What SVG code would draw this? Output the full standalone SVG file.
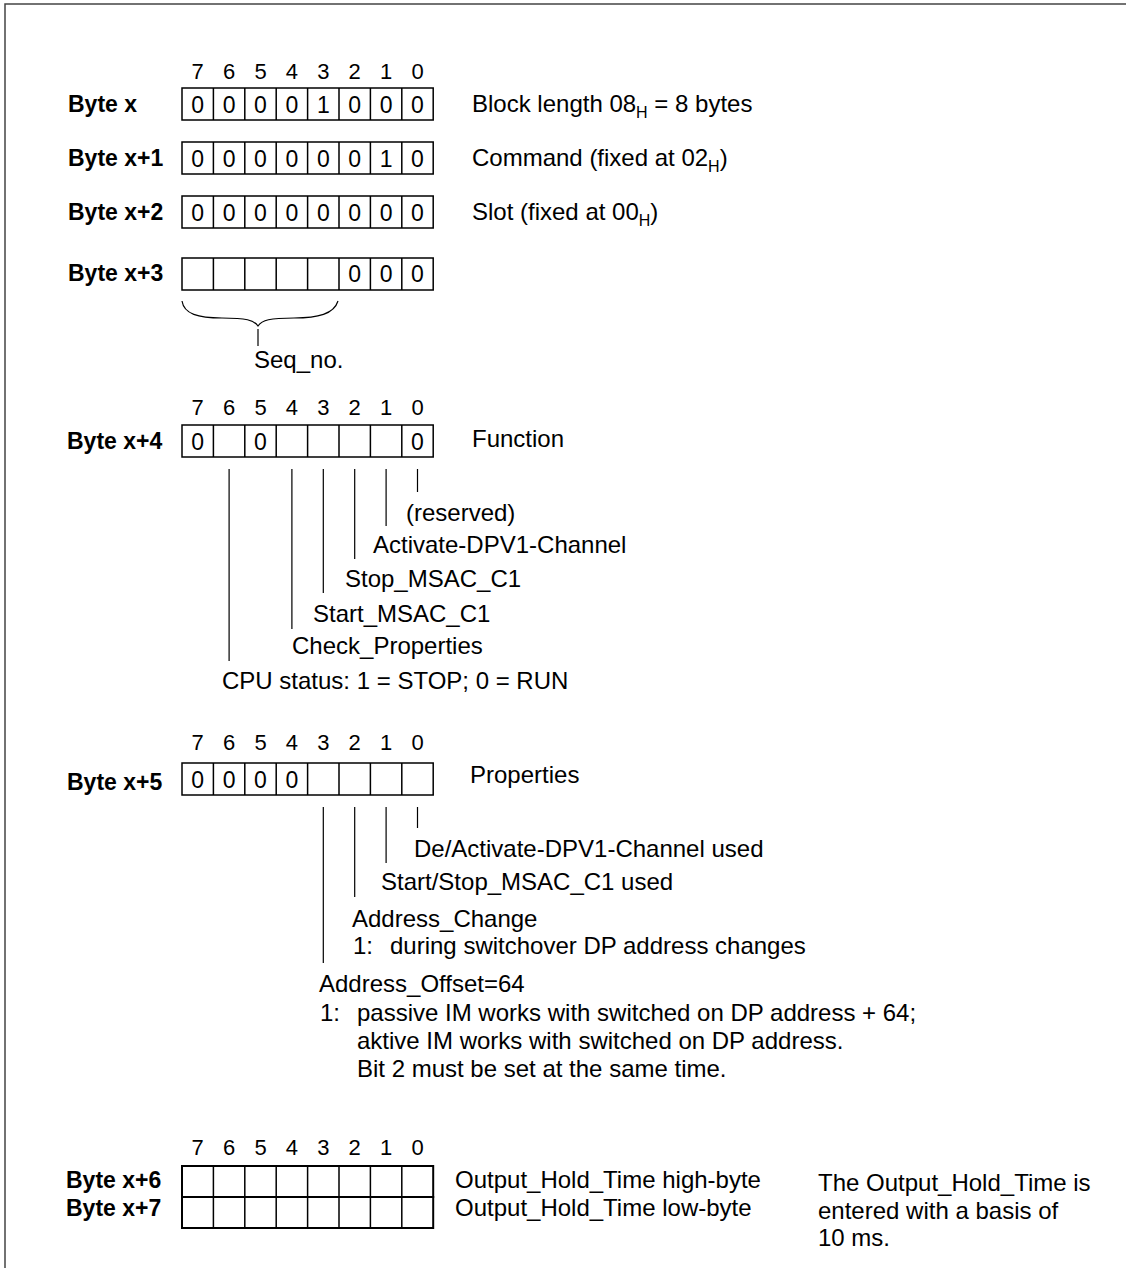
<svg xmlns="http://www.w3.org/2000/svg" width="1126" height="1276" viewBox="0 0 1126 1276">
<style>
.t{font-family:"Liberation Sans",Arial,sans-serif;font-size:24px;fill:#000}
.b{font-weight:bold;font-size:23px}
.c{text-anchor:middle;font-size:23px}
.n{font-family:"Liberation Sans",Arial,sans-serif;font-size:22px;fill:#000;text-anchor:middle}
.box{fill:none;stroke:#000;stroke-width:1.5}
.ld{stroke:#000;stroke-width:1.2;fill:none}
.sub{font-size:16px}
</style>
<defs>
<path id="grid" d="M213.4,0V32M244.8,0V32M276.2,0V32M307.6,0V32M339,0V32M370.4,0V32M401.8,0V32" class="box"/>
<g id="bits">
<text class="n" x="197.7">7</text><text class="n" x="229.1">6</text><text class="n" x="260.5">5</text><text class="n" x="291.9">4</text><text class="n" x="323.3">3</text><text class="n" x="354.7">2</text><text class="n" x="386.1">1</text><text class="n" x="417.5">0</text>
</g>
</defs>
<path d="M1126,4H5V1268" fill="none" stroke="#444" stroke-width="1.5"/>

<g id="byte-x">
<use href="#bits" y="79"/>
<text class="t b" x="68" y="112">Byte x</text>
<g transform="translate(0,88)"><rect class="box" x="182" y="0" width="251.2" height="32"/><use href="#grid"/></g>
<g class="t c"><text x="197.7" y="113">0</text><text x="229.1" y="113">0</text><text x="260.5" y="113">0</text><text x="291.9" y="113">0</text><text x="323.3" y="113">1</text><text x="354.7" y="113">0</text><text x="386.1" y="113">0</text><text x="417.5" y="113">0</text></g>
<text class="t" x="472" y="112">Block length 08<tspan class="sub" dy="6">H</tspan><tspan dy="-6"> = 8 bytes</tspan></text>
</g>

<g id="byte-x1">
<text class="t b" x="68" y="166">Byte x+1</text>
<g transform="translate(0,142)"><rect class="box" x="182" y="0" width="251.2" height="32"/><use href="#grid"/></g>
<g class="t c"><text x="197.7" y="167">0</text><text x="229.1" y="167">0</text><text x="260.5" y="167">0</text><text x="291.9" y="167">0</text><text x="323.3" y="167">0</text><text x="354.7" y="167">0</text><text x="386.1" y="167">1</text><text x="417.5" y="167">0</text></g>
<text class="t" x="472" y="166">Command (fixed at 02<tspan class="sub" dy="6">H</tspan><tspan dy="-6">)</tspan></text>
</g>

<g id="byte-x2">
<text class="t b" x="68" y="220">Byte x+2</text>
<g transform="translate(0,196)"><rect class="box" x="182" y="0" width="251.2" height="32"/><use href="#grid"/></g>
<g class="t c"><text x="197.7" y="221">0</text><text x="229.1" y="221">0</text><text x="260.5" y="221">0</text><text x="291.9" y="221">0</text><text x="323.3" y="221">0</text><text x="354.7" y="221">0</text><text x="386.1" y="221">0</text><text x="417.5" y="221">0</text></g>
<text class="t" x="472" y="220">Slot (fixed at 00<tspan class="sub" dy="6">H</tspan><tspan dy="-6">)</tspan></text>
</g>

<g id="byte-x3">
<text class="t b" x="68" y="281">Byte x+3</text>
<g transform="translate(0,258)"><rect class="box" x="182" y="0" width="251.2" height="32"/><use href="#grid"/></g>
<g class="t c"><text x="354.7" y="282">0</text><text x="386.1" y="282">0</text><text x="417.5" y="282">0</text></g>
<text class="t" x="254" y="368">Seq_no.</text>
</g>

<g id="byte-x4">
<use href="#bits" y="415"/>
<text class="t b" x="67" y="449">Byte x+4</text>
<g transform="translate(0,425)"><rect class="box" x="182" y="0" width="251.2" height="32"/><use href="#grid"/></g>
<g class="t c"><text x="197.7" y="450">0</text><text x="260.5" y="450">0</text><text x="417.5" y="450">0</text></g>
<text class="t" x="472" y="447">Function</text>
<text class="t" x="406" y="521">(reserved)</text>
<text class="t" x="373" y="553">Activate-DPV1-Channel</text>
<text class="t" x="345" y="587">Stop_MSAC_C1</text>
<text class="t" x="313" y="622">Start_MSAC_C1</text>
<text class="t" x="292" y="654">Check_Properties</text>
<text class="t" x="222" y="689">CPU status: 1 = STOP; 0 = RUN</text>
</g>

<g id="byte-x5">
<use href="#bits" y="750"/>
<text class="t b" x="67" y="790">Byte x+5</text>
<g transform="translate(0,763)"><rect class="box" x="182" y="0" width="251.2" height="32"/><use href="#grid"/></g>
<g class="t c"><text x="197.7" y="788">0</text><text x="229.1" y="788">0</text><text x="260.5" y="788">0</text><text x="291.9" y="788">0</text></g>
<text class="t" x="470" y="783">Properties</text>
<text class="t" x="414" y="857">De/Activate-DPV1-Channel used</text>
<text class="t" x="381" y="890">Start/Stop_MSAC_C1 used</text>
<text class="t" x="352" y="927">Address_Change</text>
<text class="t" x="353" y="954">1:</text><text class="t" x="390" y="954">during switchover DP address changes</text>
<text class="t" x="319" y="992">Address_Offset=64</text>
<text class="t" x="320" y="1021">1:</text><text class="t" x="357" y="1021">passive IM works with switched on DP address + 64;</text>
<text class="t" x="357" y="1049">aktive IM works with switched on DP address.</text>
<text class="t" x="357" y="1077">Bit 2 must be set at the same time.</text>
</g>

<g id="byte-x6-x7">
<use href="#bits" y="1155"/>
<text class="t b" x="66" y="1188">Byte x+6</text>
<text class="t b" x="66" y="1216">Byte x+7</text>
<g transform="translate(0,1166)"><rect class="box" x="182" y="0" width="251.2" height="31" style="stroke-width:2"/><use href="#grid" transform="scale(1,0.97)" style="stroke-width:2"/></g>
<g transform="translate(0,1197)"><rect class="box" x="182" y="0" width="251.2" height="31" style="stroke-width:2"/><use href="#grid" transform="scale(1,0.97)" style="stroke-width:2"/></g>
<text class="t" x="455" y="1188">Output_Hold_Time high-byte</text>
<text class="t" x="455" y="1216">Output_Hold_Time low-byte</text>
<text class="t" x="818" y="1191">The Output_Hold_Time is</text>
<text class="t" x="818" y="1219">entered with a basis of</text>
<text class="t" x="818" y="1246">10 ms.</text>
</g>

<g id="connectors" class="ld">
<path d="M182,301C184,314 198,318 222,318C246,318 254,320 258,326C262,320 270,318 294,318C318,318 334,314 338,301"/>
<path d="M258,329V346"/>
<path d="M417.5,469V492M386.1,469V526M354.7,469V559M323.3,469V593M291.9,469V629M229.1,469V661"/>
<path d="M417.5,807V828M386.1,807V863M354.7,807V897M323.3,807V963"/>
</g>
</svg>
